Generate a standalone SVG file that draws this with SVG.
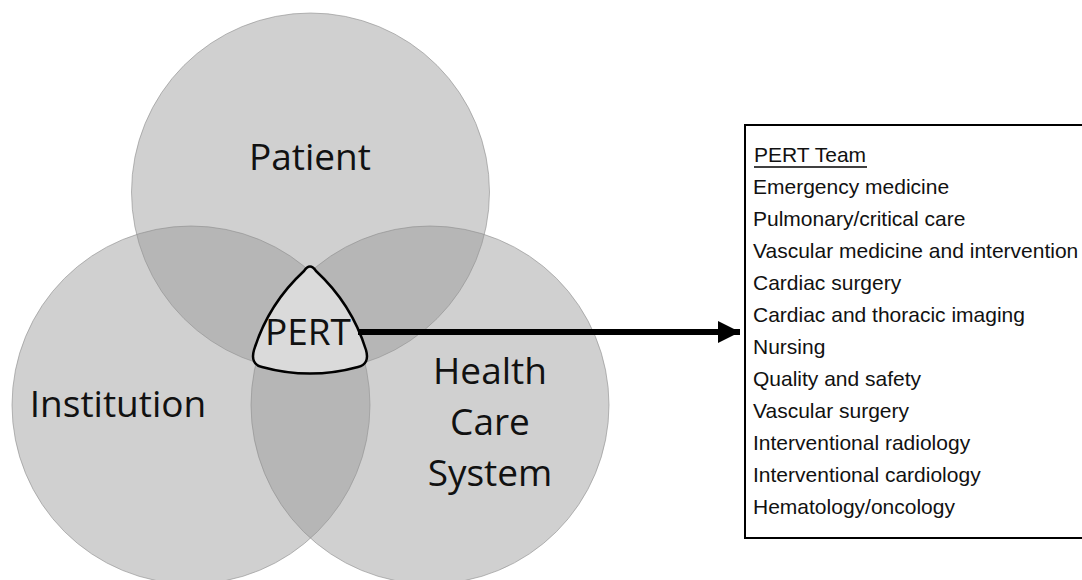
<svg xmlns="http://www.w3.org/2000/svg" width="1082" height="580" viewBox="0 0 1082 580">
<style>
.circ{fill:#969696;fill-opacity:0.45;stroke:#8c8c8c;stroke-opacity:0.6;stroke-width:1}
.lbl{font-family:"Open Sans","Noto Sans",sans-serif;font-size:37px;fill:#111;text-anchor:middle}
.item{font-family:"Liberation Sans",Arial,sans-serif;font-size:21px;fill:#111}
</style>
<defs>
<marker id="ah" markerUnits="userSpaceOnUse" markerWidth="24" markerHeight="24" refX="22" refY="11" orient="auto">
<path d="M0,0 L22,11 L0,22 Z" fill="#000"/>
</marker>
</defs>
<rect width="1082" height="580" fill="#fff"/>
<g id="patient">
<circle class="circ" cx="310.5" cy="192" r="179"/>
<text class="lbl" x="310" y="170">Patient</text>
</g>
<g id="institution">
<circle class="circ" cx="191" cy="405" r="179"/>
<text class="lbl" x="118" y="417">Institution</text>
</g>
<g id="health-care-system">
<circle class="circ" cx="430" cy="405" r="179"/>
<text class="lbl" x="490" y="384">Health</text>
<text class="lbl" x="490" y="435">Care</text>
<text class="lbl" x="490" y="486">System</text>
</g>
<g id="pert">
<path d="M304,271 Q310,262 316,271 A181 181 0 0 1 366,350 Q370,364 358,367 A181 181 0 0 1 262,367 Q250,364 254,350 A181 181 0 0 1 304,271 Z" fill="#dadada" stroke="#000" stroke-width="2.5"/>
<text class="lbl" x="308" y="345">PERT</text>
</g>
<g id="connectors">
<line x1="358" y1="332" x2="740" y2="332" stroke="#000" stroke-width="6" marker-end="url(#ah)"/>
</g>
<g id="pert-team">
<rect x="745" y="125" width="350" height="413" fill="#fff" stroke="#000" stroke-width="2"/>
<text class="item" x="754" y="162">PERT Team</text>
<line x1="754" y1="167" x2="867" y2="167" stroke="#000" stroke-width="1.5"/>
<text class="item" x="753" y="194">Emergency medicine</text>
<text class="item" x="753" y="226">Pulmonary/critical care</text>
<text class="item" x="753" y="258">Vascular medicine and intervention</text>
<text class="item" x="753" y="290">Cardiac surgery</text>
<text class="item" x="753" y="322">Cardiac and thoracic imaging</text>
<text class="item" x="753" y="354">Nursing</text>
<text class="item" x="753" y="386">Quality and safety</text>
<text class="item" x="753" y="418">Vascular surgery</text>
<text class="item" x="753" y="450">Interventional radiology</text>
<text class="item" x="753" y="482">Interventional cardiology</text>
<text class="item" x="753" y="514">Hematology/oncology</text>
</g>
</svg>
